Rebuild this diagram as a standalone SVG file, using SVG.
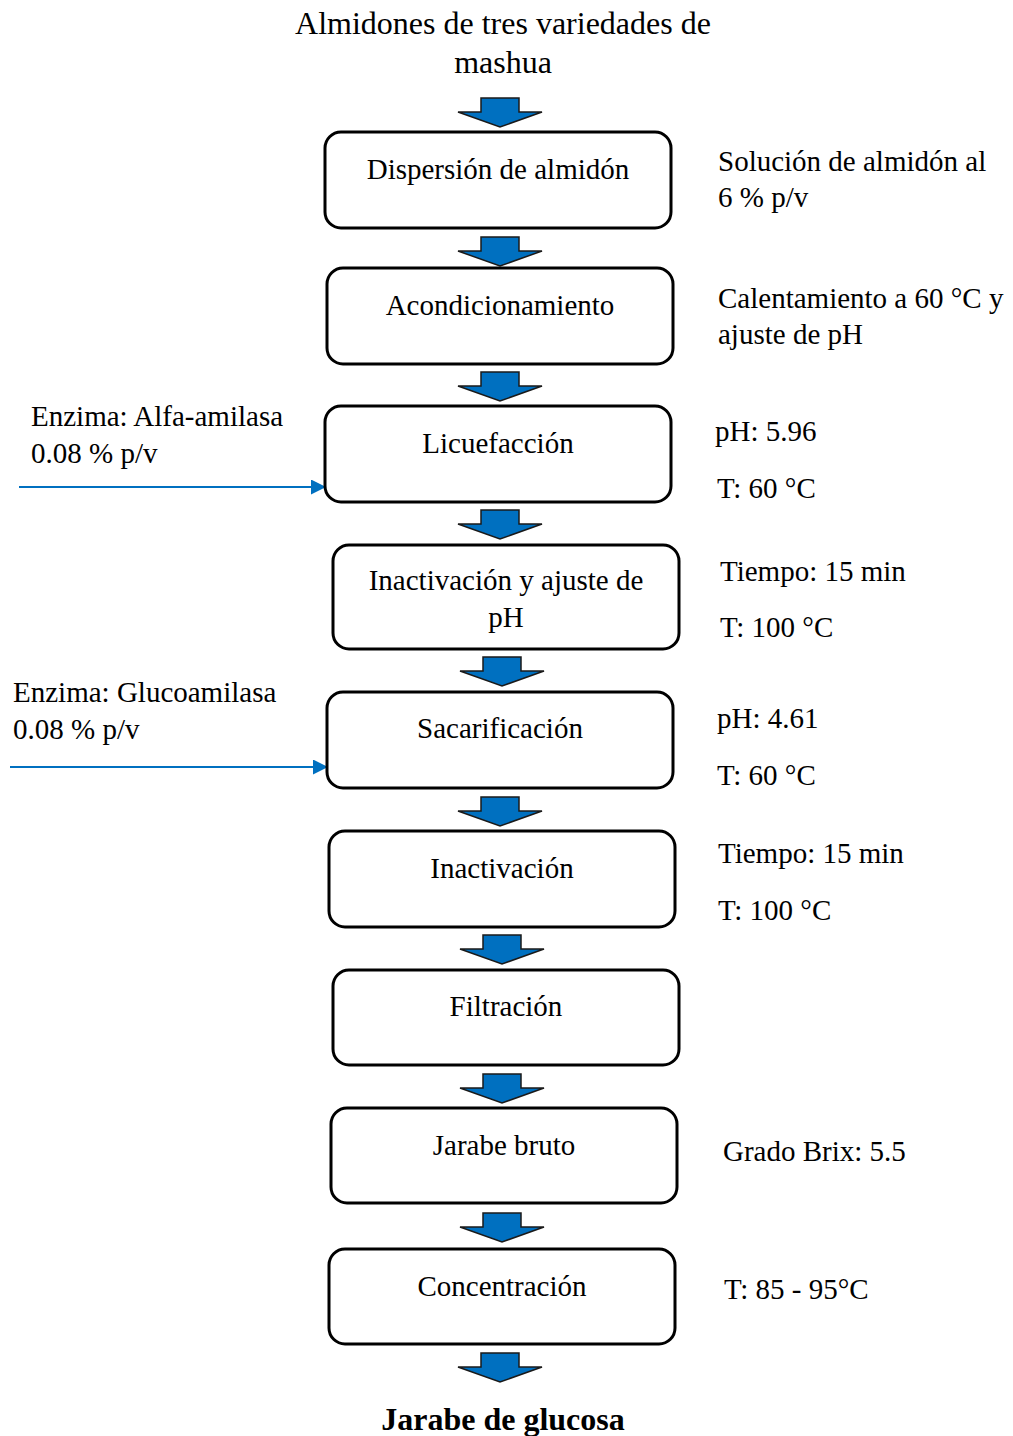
<svg xmlns="http://www.w3.org/2000/svg" width="1013" height="1436" viewBox="0 0 1013 1436">
<defs>
<style>
text{font-family:"Liberation Serif","Times New Roman",serif;font-size:29px;fill:#000}
.c{text-anchor:middle}
.t{font-size:32px}
.b{font-weight:bold;font-size:32px}
.box{fill:#fff;stroke:#000;stroke-width:3}
.blk{fill:#0070C0;stroke:#1a1a1a;stroke-width:1.5;stroke-linejoin:miter}
.ln{stroke:#0070C0;stroke-width:2;fill:none}
</style>
<path id="ba" d="M-19,0 H19 V14 H42 L0,29 L-42,14 H-19 Z"/>
<marker id="ah" markerWidth="15" markerHeight="15" refX="15" refY="7.5" orient="auto" markerUnits="userSpaceOnUse"><path d="M0,0 L15,7.5 L0,15 Z" fill="#0070C0"/></marker>
</defs>
<rect width="1013" height="1436" fill="#fff"/>
<g id="title"><text class="c t" x="503" y="34">Almidones de tres variedades de</text><text class="c t" x="503" y="73">mashua</text></g>
<g id="connectors">
<use href="#ba" class="blk" x="500" y="98"/>
<use href="#ba" class="blk" x="500" y="237"/>
<use href="#ba" class="blk" x="500" y="372"/>
<use href="#ba" class="blk" x="500" y="510"/>
<use href="#ba" class="blk" x="502" y="657"/>
<use href="#ba" class="blk" x="500" y="797"/>
<use href="#ba" class="blk" x="502" y="935"/>
<use href="#ba" class="blk" x="502" y="1074"/>
<use href="#ba" class="blk" x="502" y="1213"/>
<use href="#ba" class="blk" x="500" y="1353"/>
<line class="ln" x1="19" y1="487" x2="326" y2="487" marker-end="url(#ah)"/>
<line class="ln" x1="10" y1="767" x2="328" y2="767" marker-end="url(#ah)"/>
</g>
<g id="n1"><rect class="box" x="325" y="132" width="346" height="96" rx="16"/><text class="c" x="498" y="179">Dispersión de almidón</text></g>
<g id="n2"><rect class="box" x="327" y="268" width="346" height="96" rx="16"/><text class="c" x="500" y="315">Acondicionamiento</text></g>
<g id="n3"><rect class="box" x="325" y="406" width="346" height="96" rx="16"/><text class="c" x="498" y="453">Licuefacción</text></g>
<g id="n4"><rect class="box" x="333" y="545" width="346" height="104" rx="16"/><text class="c" x="506" y="590">Inactivación y ajuste de</text><text class="c" x="506" y="627">pH</text></g>
<g id="n5"><rect class="box" x="327" y="692" width="346" height="96" rx="16"/><text class="c" x="500" y="738">Sacarificación</text></g>
<g id="n6"><rect class="box" x="329" y="831" width="346" height="96" rx="16"/><text class="c" x="502" y="878">Inactivación</text></g>
<g id="n7"><rect class="box" x="333" y="970" width="346" height="95" rx="16"/><text class="c" x="506" y="1016">Filtración</text></g>
<g id="n8"><rect class="box" x="331" y="1108" width="346" height="95" rx="16"/><text class="c" x="504" y="1155">Jarabe bruto</text></g>
<g id="n9"><rect class="box" x="329" y="1249" width="346" height="95" rx="16"/><text class="c" x="502" y="1296">Concentración</text></g>
<g id="final"><text class="c b" x="503" y="1430">Jarabe de glucosa</text></g>
<g id="notes">
<text x="718" y="171">Solución de almidón al</text><text x="718" y="207">6 % p/v</text>
<text x="718" y="308">Calentamiento a 60 °C y</text><text x="718" y="344">ajuste de pH</text>
<text x="715" y="441">pH: 5.96</text><text x="717" y="498">T: 60 °C</text>
<text x="720" y="581">Tiempo: 15 min</text><text x="720" y="637">T: 100 °C</text>
<text x="717" y="728">pH: 4.61</text><text x="717" y="785">T: 60 °C</text>
<text x="718" y="863">Tiempo: 15 min</text><text x="718" y="920">T: 100 °C</text>
<text x="723" y="1161">Grado Brix: 5.5</text>
<text x="724" y="1299">T: 85 - 95°C</text>
<text x="31" y="426">Enzima: Alfa-amilasa</text><text x="31" y="463">0.08 % p/v</text>
<text x="13" y="702">Enzima: Glucoamilasa</text><text x="13" y="739">0.08 % p/v</text>
</g>
</svg>
